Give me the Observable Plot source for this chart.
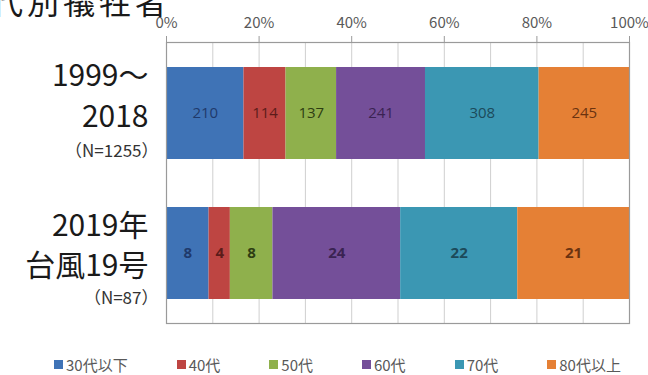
<!DOCTYPE html>
<html>
<head>
<meta charset="utf-8">
<script src="https://cdn.jsdelivr.net/npm/d3@7"></script>
<script src="https://cdn.jsdelivr.net/npm/@observablehq/plot@0.6"></script>
<style>
  html, body { margin: 0; padding: 0; background: #fff; }
  #wrap { position: relative; width: 648px; height: 375px; overflow: hidden; font-family: 'Noto Sans CJK JP', 'Noto Sans', sans-serif; }
  #title { position: absolute; left: -9px; top: -16px; font-size: 32px; line-height: 32px; letter-spacing: 4px; color: #1a1a1a; white-space: nowrap; z-index: 2; }
  #chart svg { display: block; }
  #legend { display: flex; align-items: center; height: 22px; padding-left: 54px; gap: 49px; font-size: 15px; color: #595959; }
  #legend .item { display: flex; align-items: center; white-space: nowrap; }
  #legend .sw { width: 9px; height: 9px; margin-right: 3px; display: inline-block; }
</style>
</head>
<body>
<div id="wrap">
  <div id="title">代別犠牲者</div>
  <div id="chart"></div>
  <div id="legend"></div>
</div>
<script>
// ---- data ----
const groups = ["1999～2018", "2019年台風19号"];
const groupLine1 = ["1999～", "2019年"];
const groupLine2 = ["2018", "台風19号"];
const groupN = ["（N=1255）", "（N=87）"];
const ages = ["30代以下", "40代", "50代", "60代", "70代", "80代以上"];
const counts1999to2018 = [210, 114, 137, 241, 308, 245];
const counts2019 = [8, 4, 8, 24, 22, 21];
const xTicks = [0, 0.2, 0.4, 0.6, 0.8, 1.0];
const xGrid = [0, 0.1, 0.2, 0.3, 0.4, 0.5, 0.6, 0.7, 0.8, 0.9, 1.0];

// ---- styles ----
const fillColors = ["#3f73b6", "#be4542", "#8fb04c", "#744f99", "#3b97b3", "#e58035"];
const labelColors = ["#1f3a6b", "#5c1c1a", "#2d3d12", "#3a2352", "#1c4a5a", "#6b3310"];
const line1Dy = [-37, -27];
const line2Dy = [4, 13];
const nDy = [38, 45];

const seriesByGroup = [counts1999to2018, counts2019];
const rows = groups.flatMap((g, i) => ages.map((a, j) => ({group: g, age: a, count: seriesByGroup[i][j], gi: i, ai: j})));

const textMarks = groups.map((g, i) =>
  Plot.textX(rows.filter(d => d.gi === i), Plot.stackX({
    x: "count", y: "group", z: "age", offset: "normalize",
    text: d => String(d.count),
    fill: d => labelColors[d.ai],
    fontSize: 15,
    fontWeight: i === 0 ? "normal" : "bold",
    fontFamily: "'Open Sans', 'Noto Sans', sans-serif"
  }))
);

const groupLabelMarks = groups.flatMap((g, i) => [
  Plot.text([g], {y: d => d, text: () => groupLine1[i], frameAnchor: "left", textAnchor: "end", dx: -18, dy: line1Dy[i], fontSize: 30, fill: "#1a1a1a"}),
  Plot.text([g], {y: d => d, text: () => groupLine2[i], frameAnchor: "left", textAnchor: "end", dx: -18, dy: line2Dy[i], fontSize: 30, fill: "#1a1a1a"}),
  Plot.text([g], {y: d => d, text: () => groupN[i], frameAnchor: "left", textAnchor: "end", dx: -8, dy: nDy[i], fontSize: 17, fill: "#333"})
]);

const plot = Plot.plot({
  width: 648,
  height: 353,
  marginLeft: 166,
  marginRight: 19,
  marginTop: 42,
  marginBottom: 30,
  style: {fontFamily: "'Noto Sans CJK JP', 'Noto Sans', sans-serif", background: "#fff", overflow: "visible"},
  x: {domain: [0, 1], axis: null, label: null},
  y: {domain: groups, axis: null, label: null, paddingInner: 0.345, paddingOuter: 0.1725},
  color: {domain: ages, range: fillColors},
  marks: [
    Plot.ruleX(xGrid, {stroke: "#cfcfcf", strokeWidth: 1}),
    Plot.barX(rows, Plot.stackX({x: "count", y: "group", fill: "age", offset: "normalize"})),
    ...textMarks,
    Plot.frame({stroke: "#9a9a9a", strokeWidth: 1.2}),
    Plot.axisX(xTicks, {anchor: "top", label: null, tickSize: 7, tickPadding: 8, tickFormat: d3.format(".0%"), fontSize: 15, stroke: "#9a9a9a", fill: "#595959"}),
    ...groupLabelMarks
  ]
});
document.getElementById("chart").appendChild(plot);

// legend (HTML, below the SVG), colours from the plot's own scale
const colorScale = plot.scale("color");
const legend = document.getElementById("legend");
ages.forEach((a, j) => {
  const item = document.createElement("span");
  item.className = "item";
  const sw = document.createElement("span");
  sw.className = "sw";
  sw.style.background = colorScale.range[j];
  item.appendChild(sw);
  item.appendChild(document.createTextNode(a));
  legend.appendChild(item);
});
</script>
</body>
</html>
